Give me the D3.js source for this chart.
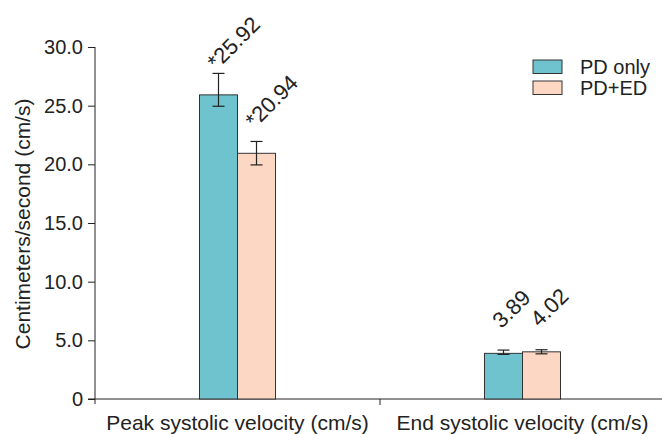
<!DOCTYPE html>
<html>
<head>
<meta charset="utf-8">
<script src="https://cdn.jsdelivr.net/npm/d3@7"></script>
<style>
  body { margin: 0; background: #fff; }
  svg { font-family: "Liberation Sans", Arial, sans-serif; }
</style>
</head>
<body>
<svg id="chart"></svg>
<script>
// data
const categories = ["Peak systolic velocity (cm/s)", "End systolic velocity (cm/s)"];
const series = ["PD only", "PD+ED"];
const pdOnly = [25.92, 3.89];
const pdEd = [20.94, 4.02];
const pdOnlyErrLow = [24.95, 3.80];
const pdOnlyErrHigh = [27.75, 4.17];
const pdEdErrLow = [19.95, 3.85];
const pdEdErrHigh = [21.95, 4.20];
const pdOnlyLabels = ["*25.92", "3.89"];
const pdEdLabels = ["*20.94", "4.02"];
const yTicks = [0, 5, 10, 15, 20, 25, 30];

const width = 662, height = 434;
const colors = ["#6fc3cf", "#fcd7c3"];

const svg = d3.select("#chart")
  .attr("width", width)
  .attr("height", height);

// scales
const x0 = d3.scaleBand().domain(categories).range([95, 665]).padding(0);
const x1 = d3.scaleBand().domain(series).range([0, x0.bandwidth()])
  .paddingInner(0).paddingOuter(2.75);
const y = d3.scaleLinear().domain([0, 30]).range([399, 47]);

// rows: one per bar
const rows = [];
categories.forEach((c, i) => {
  rows.push({ cat: c, s: series[0], v: pdOnly[i], lo: pdOnlyErrLow[i], hi: pdOnlyErrHigh[i], label: pdOnlyLabels[i], color: colors[0] });
  rows.push({ cat: c, s: series[1], v: pdEd[i], lo: pdEdErrLow[i], hi: pdEdErrHigh[i], label: pdEdLabels[i], color: colors[1] });
});

// y axis
const yAxis = svg.append("g")
  .attr("transform", "translate(95,0)")
  .call(d3.axisLeft(y).tickValues(yTicks).tickSize(7).tickPadding(5)
    .tickFormat(d => d === 0 ? "0" : d3.format(".1f")(d)));
yAxis.select(".domain").attr("d", "M0," + y(30) + "V" + (y(0) + 5));
yAxis.selectAll("text")
  .attr("font-size", 20)
  .attr("fill", "#222")
  .attr("font-family", "Liberation Sans, Arial, sans-serif");
yAxis.selectAll("line, path").attr("stroke", "#222");

// x axis
const xAxis = svg.append("g")
  .attr("transform", "translate(0," + y(0) + ")");
xAxis.append("line").attr("x1", 88).attr("x2", width).attr("stroke", "#222");
xAxis.append("line")
  .attr("x1", x0(categories[1])).attr("x2", x0(categories[1]))
  .attr("y1", 0).attr("y2", 6).attr("stroke", "#222");
xAxis.selectAll("text.cat")
  .data(categories)
  .enter().append("text")
  .attr("class", "cat")
  .attr("x", d => x0(d) + x0.bandwidth() / 2)
  .attr("y", 31)
  .attr("text-anchor", "middle")
  .attr("font-size", 21)
  .attr("fill", "#222")
  .text(d => d);

// y title
svg.append("text")
  .attr("transform", "translate(30," + ((y(0) + y(30)) / 2 + 1) + ") rotate(-90)")
  .attr("text-anchor", "middle")
  .attr("font-size", 21)
  .attr("fill", "#222")
  .text("Centimeters/second (cm/s)");

// bars
const bars = svg.append("g");
bars.selectAll("rect")
  .data(rows)
  .enter().append("rect")
  .attr("x", d => x0(d.cat) + x1(d.s))
  .attr("y", d => y(d.v))
  .attr("width", x1.bandwidth())
  .attr("height", d => y(0) - y(d.v))
  .attr("fill", d => d.color)
  .attr("stroke", "#333")
  .attr("stroke-width", 1);

// error bars
const err = svg.append("g").attr("stroke", "#222").attr("stroke-width", 1.2);
rows.forEach(d => {
  const cx = x0(d.cat) + x1(d.s) + x1.bandwidth() / 2;
  err.append("line").attr("x1", cx).attr("x2", cx).attr("y1", y(d.hi)).attr("y2", y(d.lo));
  err.append("line").attr("x1", cx - 6).attr("x2", cx + 6).attr("y1", y(d.hi)).attr("y2", y(d.hi));
  err.append("line").attr("x1", cx - 6).attr("x2", cx + 6).attr("y1", y(d.lo)).attr("y2", y(d.lo));
});

// value labels, rotated
svg.append("g").selectAll("text")
  .data(rows)
  .enter().append("text")
  .attr("transform", d => {
    const cx = x0(d.cat) + x1(d.s) + x1.bandwidth() / 2;
    return "translate(" + (cx - 2) + "," + (y(d.v) - 24) + ") rotate(-45)";
  })
  .attr("font-size", 22)
  .attr("fill", "#222")
  .text(d => d.label);

// legend
const legend = svg.append("g").attr("transform", "translate(533,60)");
series.forEach((s, i) => {
  const g = legend.append("g").attr("transform", "translate(0," + i * 21 + ")");
  g.append("rect").attr("width", 29).attr("height", 13.5)
    .attr("fill", colors[i]).attr("stroke", "#333");
  g.append("text").attr("x", 47).attr("y", 14)
    .attr("font-size", 20).attr("fill", "#222").text(s);
});
</script>
</body>
</html>
